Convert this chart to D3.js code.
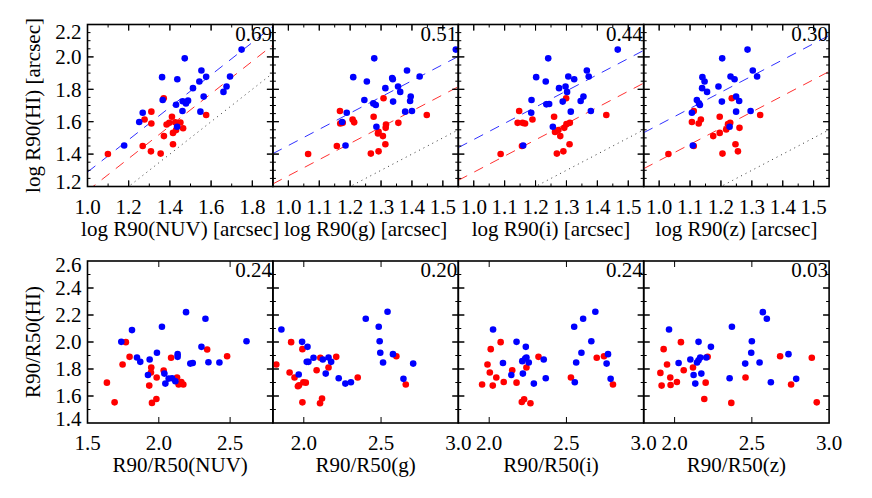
<!DOCTYPE html>
<html><head><meta charset="utf-8">
<script src="https://cdn.jsdelivr.net/npm/d3@7"></script>
<style>
body{margin:0;background:#fff;}
svg{display:block;}
svg text{font-family:"Liberation Serif","Times New Roman","DejaVu Serif",serif;}
</style></head>
<body><svg id="c" width="872" height="498"></svg>
<script>
// ---------- DATA ----------
// top row: log R90(band) vs log R90(HI)
const topNUVBlue = [[1.178,1.453],[1.251,1.598],[1.268,1.655],[1.362,1.875],[1.365,1.734],[1.430,1.705],[1.435,1.569],[1.436,1.862],[1.472,1.991],[1.461,1.666],[1.462,1.726],[1.478,1.713],[1.488,1.730],[1.512,1.807],[1.543,1.848],[1.553,1.916],[1.564,1.755],[1.576,1.877],[1.548,1.662],[1.660,1.784],[1.675,1.817],[1.692,1.879],[1.748,2.045]];
const topNUVRed = [[1.099,1.401],[1.268,1.450],[1.277,1.614],[1.310,1.662],[1.310,1.589],[1.308,1.417],[1.355,1.403],[1.370,1.745],[1.371,1.511],[1.384,1.583],[1.397,1.593],[1.410,1.631],[1.415,1.461],[1.415,1.531],[1.426,1.596],[1.430,1.548],[1.451,1.595],[1.464,1.560],[1.576,1.641]];
const topGBlue = [[1.542,2.045],[1.278,1.991],[1.384,1.916],[1.210,1.875],[1.254,1.848],[1.425,1.879],[1.336,1.869],[1.338,1.862],[1.355,1.817],[1.314,1.807],[1.362,1.784],[1.246,1.734],[1.275,1.713],[1.283,1.703],[1.339,1.724],[1.396,1.755],[1.394,1.728],[1.189,1.655],[1.378,1.662],[1.400,1.666],[1.174,1.598],[1.285,1.569],[1.185,1.453]];
const topGRed = [[1.064,1.401],[1.157,1.450],[1.167,1.666],[1.168,1.589],[1.176,1.593],[1.208,1.614],[1.213,1.596],[1.276,1.631],[1.308,1.745],[1.316,1.583],[1.315,1.562],[1.292,1.537],[1.290,1.527],[1.306,1.511],[1.314,1.461],[1.267,1.403],[1.292,1.417],[1.356,1.593],[1.448,1.641]];
const topIBlue = [[1.466,2.045],[1.241,1.991],[1.366,1.916],[1.202,1.875],[1.233,1.848],[1.306,1.879],[1.325,1.862],[1.372,1.879],[1.276,1.807],[1.297,1.817],[1.302,1.784],[1.187,1.734],[1.235,1.707],[1.244,1.709],[1.288,1.724],[1.355,1.755],[1.346,1.728],[1.186,1.655],[1.314,1.662],[1.379,1.666],[1.256,1.569],[1.160,1.453]];
const topIRed = [[1.087,1.401],[1.156,1.450],[1.147,1.666],[1.142,1.593],[1.158,1.593],[1.166,1.589],[1.190,1.614],[1.260,1.631],[1.299,1.745],[1.263,1.537],[1.274,1.548],[1.280,1.511],[1.293,1.562],[1.300,1.585],[1.311,1.593],[1.310,1.461],[1.269,1.403],[1.290,1.417],[1.429,1.641]];
const topZBlue = [[1.286,2.045],[1.204,1.991],[1.303,1.916],[1.140,1.875],[1.147,1.848],[1.231,1.879],[1.244,1.862],[1.317,1.879],[1.139,1.807],[1.192,1.817],[1.155,1.784],[1.122,1.734],[1.129,1.713],[1.132,1.703],[1.203,1.724],[1.249,1.755],[1.259,1.728],[1.106,1.655],[1.249,1.662],[1.296,1.666],[1.228,1.569],[1.109,1.453]];
const topZRed = [[1.030,1.401],[1.112,1.450],[1.112,1.666],[1.106,1.598],[1.128,1.589],[1.135,1.614],[1.196,1.631],[1.235,1.745],[1.175,1.511],[1.196,1.531],[1.217,1.552],[1.223,1.585],[1.230,1.593],[1.260,1.562],[1.247,1.461],[1.205,1.403],[1.255,1.417],[1.327,1.641]];
// bottom row: R90/R50(band) vs R90/R50(HI)
const botNUVBlue = [[1.737,2.001],[1.812,2.088],[1.847,1.885],[1.870,1.853],[1.936,1.870],[1.924,1.756],[1.987,1.920],[2.022,2.113],[2.039,1.766],[2.046,1.692],[2.069,1.729],[2.093,1.732],[2.116,1.709],[2.132,1.910],[2.132,1.890],[2.191,2.221],[2.221,1.840],[2.238,1.845],[2.299,1.964],[2.327,2.172],[2.348,1.850],[2.425,1.848],[2.615,2.006]];
const botNUVRed = [[1.636,1.699],[1.690,1.553],[1.746,1.833],[1.769,1.999],[1.795,1.890],[1.933,1.677],[1.947,1.811],[1.945,1.774],[1.952,1.549],[1.985,1.737],[1.983,1.578],[2.034,1.789],[2.086,1.883],[2.128,1.737],[2.139,1.685],[2.158,1.704],[2.172,1.685],[2.339,1.944],[2.479,1.895]];
const botGBlue = [[1.855,2.093],[1.989,2.001],[2.024,1.964],[2.019,1.853],[2.030,1.853],[2.063,1.883],[2.123,1.870],[2.160,1.885],[2.177,1.853],[2.142,1.766],[1.967,1.759],[2.226,1.732],[2.269,1.692],[2.305,1.702],[2.401,2.172],[2.485,2.113],[2.542,2.224],[2.491,2.006],[2.495,1.920],[2.513,1.848],[2.577,1.910],[2.645,1.727],[2.708,1.840]];
const botGRed = [[1.822,1.833],[1.918,1.999],[1.991,1.947],[1.908,1.774],[1.940,1.737],[1.969,1.680],[1.962,1.672],[1.997,1.702],[2.013,1.699],[1.991,1.553],[2.083,1.791],[2.107,1.883],[2.160,1.811],[2.210,1.890],[2.105,1.546],[2.118,1.581],[2.349,1.737],[2.599,1.895],[2.660,1.685]];
const botIBlue = [[2.025,2.093],[2.177,2.001],[2.237,1.964],[2.089,1.845],[2.233,1.878],[2.241,1.885],[2.214,1.858],[2.256,1.848],[2.143,1.756],[2.218,1.766],[2.289,1.692],[2.353,1.870],[2.366,1.732],[2.550,2.113],[2.608,2.172],[2.687,2.224],[2.661,2.006],[2.597,1.920],[2.563,1.848],[2.554,1.702],[2.769,1.910],[2.760,1.840],[2.786,1.727]];
const botIRed = [[1.954,1.685],[1.989,1.833],[2.010,1.947],[2.004,1.774],[2.046,1.737],[2.023,1.677],[2.074,1.999],[2.094,1.704],[2.149,1.791],[2.177,1.699],[2.241,1.811],[2.211,1.556],[2.226,1.576],[2.267,1.546],[2.319,1.890],[2.529,1.737],[2.696,1.883],[2.743,1.895],[2.801,1.685]];
const botZBlue = [[1.964,2.093],[2.155,2.001],[2.235,1.964],[2.026,1.845],[2.102,1.870],[2.166,1.885],[2.155,1.865],[2.145,1.848],[2.123,1.756],[2.173,1.766],[2.134,1.692],[2.205,1.885],[2.371,2.113],[2.356,1.732],[2.571,2.221],[2.597,2.172],[2.500,2.006],[2.496,1.920],[2.457,1.840],[2.550,1.848],[2.623,1.702],[2.737,1.910],[2.787,1.727]];
const botZRed = [[1.908,1.771],[1.916,1.677],[1.929,1.947],[1.951,1.833],[1.972,1.737],[1.974,1.682],[2.015,1.704],[2.041,1.999],[2.059,1.791],[2.119,1.811],[2.201,1.699],[2.192,1.578],[2.214,1.890],[2.367,1.549],[2.459,1.737],[2.683,1.895],[2.754,1.685],[2.888,1.883],[2.920,1.553]];

const topCorr = ["0.69","0.51","0.44","0.30"];
const botCorr = ["0.24","0.20","0.24","0.03"];
const topXTitles = ["log R90(NUV) [arcsec]","log R90(g) [arcsec]","log R90(i) [arcsec]","log R90(z) [arcsec]"];
const botXTitles = ["R90/R50(NUV)","R90/R50(g)","R90/R50(i)","R90/R50(z)"];
const topYTitle = "log R90(HI) [arcsec]";
const botYTitle = "R90/R50(HI)";
// offset (intercept) of slope-1 fit lines, log R90(HI) = log R90(band) + c
const blueOffsets = [0.289, 0.453, 0.490, 0.582];
const redOffsets  = [0.173, 0.266, 0.288, 0.360];
// axis ranges & ticks
const topXDomains = [[1.0,1.9],[0.95,1.55],[0.95,1.55],[0.95,1.55]];
const topXTicks = [[1.0,1.2,1.4,1.6,1.8],[1.0,1.1,1.2,1.3,1.4,1.5],[1.0,1.1,1.2,1.3,1.4,1.5],[1.0,1.1,1.2,1.3,1.4,1.5]];
const topXMinor = [0.1,0.05,0.05,0.05];
const topYDomain = [1.2,2.2];
const topYTicks = [1.2,1.4,1.6,1.8,2.0,2.2];
const botXDomains = [[1.5,2.8],[1.8,3.0],[1.8,3.0],[1.8,3.0]];
const botXTicks = [[1.5,2.0,2.5],[2.0,2.5,3.0],[2.0,2.5,3.0],[2.0,2.5,3.0]];
const botYDomain = [1.4,2.6];
const botYTicks = [1.4,1.6,1.8,2.0,2.2,2.4,2.6];

const topBlue = [topNUVBlue, topGBlue, topIBlue, topZBlue];
const topRed = [topNUVRed, topGRed, topIRed, topZRed];
const botBlue = [botNUVBlue, botGBlue, botIBlue, botZBlue];
const botRed = [botNUVRed, botGRed, botIRed, botZRed];

// ---------- LAYOUT ----------
const svg = d3.select("#c");
const FONT = "Liberation Serif, Times New Roman, DejaVu Serif, serif";
svg.attr("font-family", FONT);
const xEdges = [87.5, 272.9, 458.3, 643.7, 829.1];
const rows = [{y0:24.5, y1:186.5, padTop:7.5, padBot:4.5}, {y0:261, y1:423, padTop:4, padBot:4.5}];
const FS = 21;
const BLUE = "#0000ff", RED = "#ff0000";

function range(a, b, step){ const out=[]; const n=Math.round((b-a)/step); for(let i=0;i<=n;i++) out.push(+(a+i*step).toFixed(4)); return out; }

function panel(opts){
  const {x0,x1,y0,y1,padTop,padBot,xDom,yDom,xTicks,xMinor,yTicks,yMinor,blue,red,corr,xTitle,yTitle,showY,lines,id} = opts;
  const g = svg.append("g");
  const x = d3.scaleLinear().domain(xDom).range([x0,x1]);
  const y = d3.scaleLinear().domain(yDom).range([y1,y0]);
  g.append("clipPath").attr("id",id).append("rect").attr("x",x0).attr("y",y0).attr("width",x1-x0).attr("height",y1-y0);
  const plot = g.append("g").attr("clip-path",`url(#${id})`);
  if(lines){
    const [lo,hi] = xDom;
    plot.append("line").attr("x1",x(lo)).attr("y1",y(lo)).attr("x2",x(hi)).attr("y2",y(hi))
      .attr("stroke","#333").attr("stroke-width",1).attr("stroke-dasharray","1 4");
    plot.append("line").attr("x1",x(lo)).attr("y1",y(lo+lines.red)).attr("x2",x(hi)).attr("y2",y(hi+lines.red))
      .attr("stroke","#ff3030").attr("stroke-width",1).attr("stroke-dasharray","10 8");
    plot.append("line").attr("x1",x(lo)).attr("y1",y(lo+lines.blue)).attr("x2",x(hi)).attr("y2",y(hi+lines.blue))
      .attr("stroke","#3030ff").attr("stroke-width",1).attr("stroke-dasharray","10 8");
  }
  plot.selectAll("circle.r").data(red).join("circle").attr("class","r")
    .attr("cx",d=>x(d[0])).attr("cy",d=>y(d[1])).attr("r",3.3).attr("fill",RED);
  plot.selectAll("circle.b").data(blue).join("circle").attr("class","b")
    .attr("cx",d=>x(d[0])).attr("cy",d=>y(d[1])).attr("r",3.3).attr("fill",BLUE);

  // ticks (inward on all sides)
  const tk = g.append("g").attr("stroke","#000").attr("stroke-width",1);
  const xm = xMinor ? range(xDom[0]-((xDom[0]%xMinor+xMinor)%xMinor), xDom[1], xMinor).filter(v=>v>xDom[0]+1e-6 && v<xDom[1]-1e-6) : [];
  const ym = range(yDom[0], yDom[1], yMinor).filter(v=>v>yDom[0]+1e-6 && v<yDom[1]-1e-6);
  const isMajor = (v,arr)=>arr.some(t=>Math.abs(t-v)<1e-6);
  xm.concat(xTicks).forEach(v=>{
    if(v<=xDom[0]+1e-6||v>=xDom[1]-1e-6) return;
    const L = isMajor(v,xTicks)?6:3;
    tk.append("line").attr("x1",x(v)).attr("x2",x(v)).attr("y1",y1).attr("y2",y1-L);
    tk.append("line").attr("x1",x(v)).attr("x2",x(v)).attr("y1",y0).attr("y2",y0+L);
  });
  ym.concat(yTicks).forEach(v=>{
    if(v<=yDom[0]+1e-6||v>=yDom[1]-1e-6) return;
    const L = isMajor(v,yTicks)?6:3;
    tk.append("line").attr("y1",y(v)).attr("y2",y(v)).attr("x1",x0).attr("x2",x0+L);
    tk.append("line").attr("y1",y(v)).attr("y2",y(v)).attr("x1",x1).attr("x2",x1-L);
  });
  g.append("rect").attr("x",x0).attr("y",y0).attr("width",x1-x0).attr("height",y1-y0)
    .attr("fill","none").attr("stroke","#000").attr("stroke-width",1.6);

  // labels
  g.selectAll("text.xt").data(xTicks).join("text").attr("class","xt")
    .attr("x",d=>x(d)).attr("y",y1+27).attr("text-anchor","middle").attr("font-size",FS)
    .text(d=>d3.format(".1f")(d));
  g.append("text").attr("x",(x0+x1)/2).attr("y",y1+49).attr("text-anchor","middle").attr("font-size",FS).text(xTitle);
  g.append("text").attr("x",x1-1).attr("y",y0+16).attr("text-anchor","end").attr("font-size",FS).text(corr);
  if(showY){
    g.selectAll("text.yt").data(yTicks).join("text").attr("class","yt")
      .attr("x",x0-6).attr("y",d=>Math.min(Math.max(y(d), y0+padTop), y1-padBot)).attr("dy","0.35em").attr("text-anchor","end").attr("font-size",FS)
      .text(d=>d3.format(".1f")(d));
    g.append("text").attr("transform",`translate(33,${(y0+y1)/2}) rotate(-90)`).attr("dy","0.35em")
      .attr("text-anchor","middle").attr("font-size",FS).text(yTitle);
  }
}

for(let i=0;i<4;i++){
  panel({id:"ct"+i, x0:xEdges[i], x1:xEdges[i+1], y0:rows[0].y0, y1:rows[0].y1, padTop:rows[0].padTop, padBot:rows[0].padBot,
    xDom:topXDomains[i], yDom:topYDomain, xTicks:topXTicks[i], xMinor:topXMinor[i],
    yTicks:topYTicks, yMinor:0.05, blue:topBlue[i], red:topRed[i], corr:topCorr[i],
    xTitle:topXTitles[i], yTitle:topYTitle, showY:i===0, lines:{blue:blueOffsets[i], red:redOffsets[i]}});
  panel({id:"cb"+i, x0:xEdges[i], x1:xEdges[i+1], y0:rows[1].y0, y1:rows[1].y1, padTop:rows[1].padTop, padBot:rows[1].padBot,
    xDom:botXDomains[i], yDom:botYDomain, xTicks:botXTicks[i], xMinor:0,
    yTicks:botYTicks, yMinor:0.1, blue:botBlue[i], red:botRed[i], corr:botCorr[i],
    xTitle:botXTitles[i], yTitle:botYTitle, showY:i===0, lines:null});
}
</script></body></html>
